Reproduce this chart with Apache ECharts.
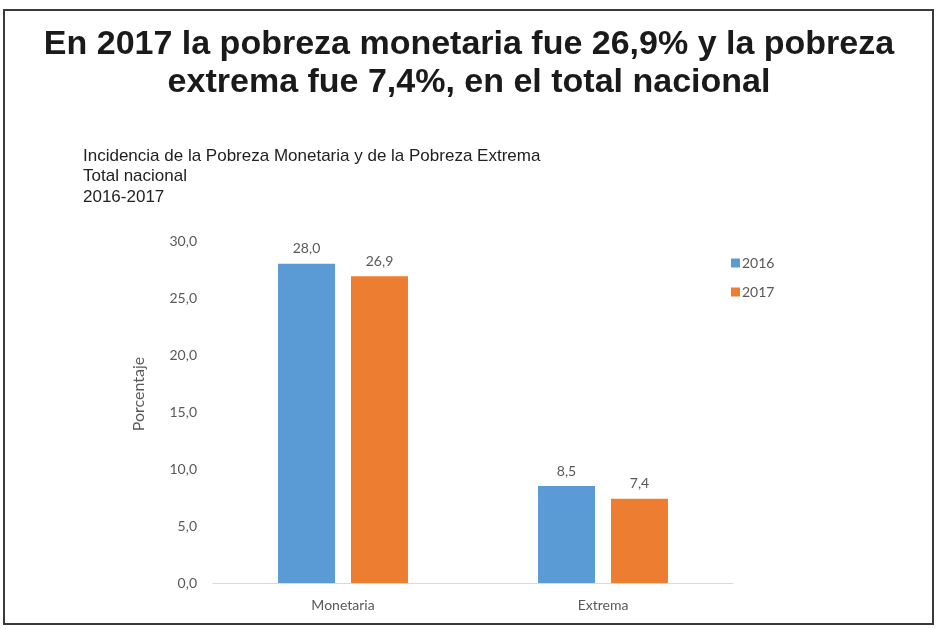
<!DOCTYPE html>
<html>
<head>
<meta charset="utf-8">
<script src="https://cdn.jsdelivr.net/npm/echarts@6/dist/echarts.min.js"></script>
<style>
  html, body { margin: 0; padding: 0; background: #fff; }
  #chart { width: 938px; height: 629px; }
</style>
</head>
<body>
<div id="chart"></div>
<script>
const categories = ['Monetaria', 'Extrema']
const seriesNames = ['2016', '2017']
const values2016 = [28.0, 8.5]
const values2017 = [26.9, 7.4]
const colors = ['#5B9BD5', '#ED7D31']

const fmt = v => Number(v).toFixed(1).replace('.', ',')
const labelFont = 'Lato, "Open Sans", sans-serif'

const chartDom = document.getElementById('chart')
const myChart = echarts.init(chartDom)

const option = {
    color: colors,
    animation: false,
    title: [
        {
            text: 'En 2017 la pobreza monetaria fue 26,9% y la pobreza\nextrema fue 7,4%, en el total nacional',
            left: 'center',
            top: 21,
            textStyle: {
                fontFamily: '"Liberation Sans", Arial, sans-serif',
                fontWeight: 'bold',
                fontSize: 34,
                lineHeight: 38,
                align: 'center',
                color: '#1a1a1a'
            }
        },
        {
            text: 'Incidencia de la Pobreza Monetaria y de la Pobreza Extrema\nTotal nacional\n2016-2017',
            left: 78,
            top: 141,
            textStyle: {
                fontFamily: '"Liberation Sans", Arial, sans-serif',
                fontWeight: 'normal',
                fontSize: 17,
                lineHeight: 20.5,
                color: '#222'
            }
        }
    ],
    graphic: [
        {
            type: 'rect',
            shape: { x: 4, y: 10, width: 929, height: 614 },
            style: { fill: 'none', stroke: '#3a3a3a', lineWidth: 2 }
        }
    ],
    legend: {
        orient: 'vertical',
        left: 726,
        top: 251,
        itemWidth: 9,
        itemHeight: 9,
        itemGap: 15,
        icon: 'rect',
        data: seriesNames,
        textStyle: { fontFamily: labelFont, fontSize: 14, color: '#595959', padding: [0, 0, 0, -3] }
    },
    grid: {
        left: 213,
        top: 241,
        width: 520,
        height: 342
    },
    xAxis: {
        type: 'category',
        data: categories,
        axisLine: { lineStyle: { color: '#D9D9D9' } },
        axisTick: { show: false },
        axisLabel: { fontFamily: labelFont, fontSize: 14, color: '#595959', margin: 15 }
    },
    yAxis: {
        type: 'value',
        min: 0,
        max: 30,
        interval: 5,
        name: 'Porcentaje',
        nameLocation: 'middle',
        nameGap: 66,
        nameRotate: 90,
        nameTextStyle: { fontFamily: labelFont, fontSize: 16, color: '#595959', padding: [0, 0, 0, 36] },
        axisLine: { show: false },
        axisTick: { show: false },
        splitLine: { show: false },
        axisLabel: { fontFamily: labelFont, fontSize: 14, color: '#595959', margin: 16, formatter: fmt }
    },
    series: [
        { name: seriesNames[0], data: values2016 },
        { name: seriesNames[1], data: values2017 }
    ].map(s => ({
        name: s.name,
        type: 'bar',
        data: s.data,
        barWidth: 57,
        barGap: '28%',
        label: {
            show: true,
            position: 'top',
            distance: 8,
            fontFamily: labelFont,
            fontSize: 14,
            color: '#595959',
            formatter: p => fmt(p.value)
        }
    }))
}

myChart.setOption(option)
</script>
</body>
</html>
